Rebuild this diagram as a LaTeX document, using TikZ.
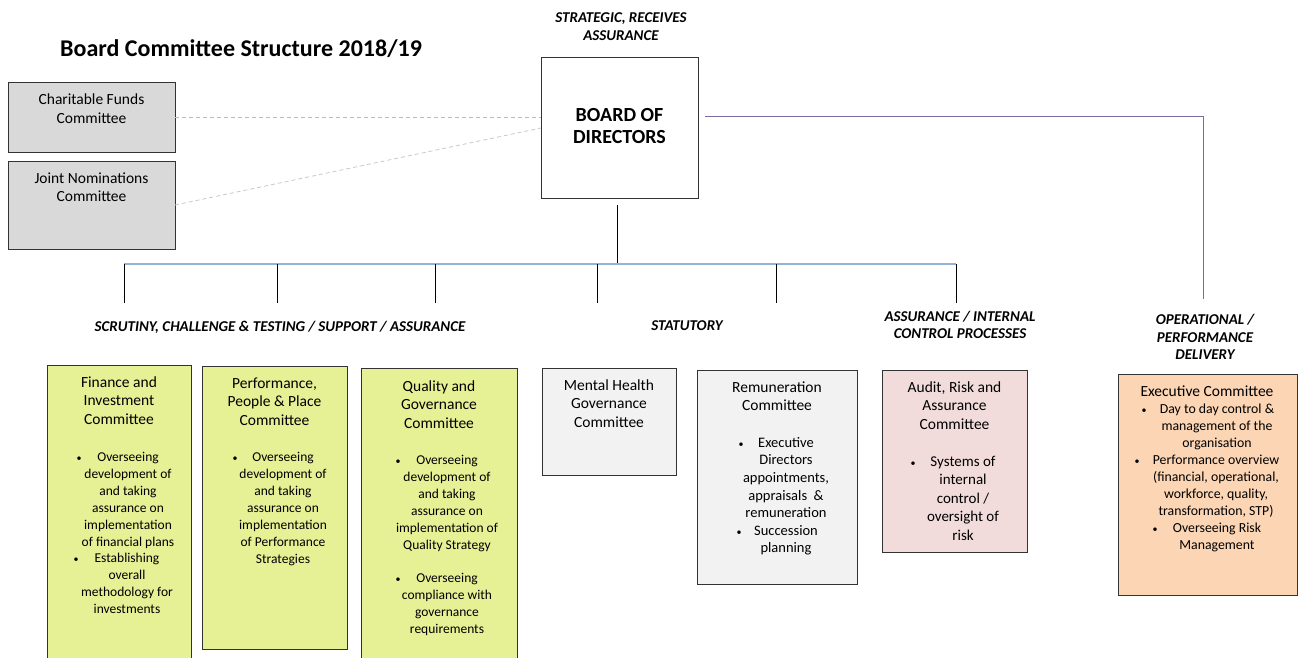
\documentclass[tikz,border=0pt]{standalone}
\usepackage{fontspec}
\setmainfont{Carlito}
\definecolor{yel}{HTML}{E6F095}
\definecolor{pnk}{HTML}{F2DCDB}
\definecolor{org}{HTML}{FCD5B4}
\definecolor{gry}{HTML}{D9D9D9}
\definecolor{lgry}{HTML}{F2F2F2}
\definecolor{barblue}{HTML}{95B3D7}
\definecolor{dashblue}{HTML}{9DC3E6}
\definecolor{dashgray}{HTML}{C8C8C8}
\definecolor{purp}{HTML}{7E6A9E}
\newcommand\ctext[2]{\parbox[t]{#1pt}{\centering #2}}
\tikzset{
  box/.style={draw=black!80, line width=0.9pt, anchor=north west, inner sep=0pt, outer sep=0pt},
  ttl/.style={anchor=base, inner sep=0pt, font=\fontsize{15.5}{18.5}\selectfont},
  txt/.style={anchor=base, inner sep=0pt, font=\fontsize{13.5}{17}\selectfont},
  lbl/.style={font=\bfseries\itshape\fontsize{15}{17.5}\selectfont, align=center, inner sep=0pt},
  drop/.style={draw=black, line width=0.8pt},
}
\newcommand\bul[6]{% name, bullet x, text x, baseline y, width, text
  \node[txt] (#1b) at (#2,#4) {\fontsize{10}{12}\selectfont\textbullet};
  \node[txt] (#1) at (#3,#4) {\ctext{#5}{#6}};}
\begin{document}
\begin{tikzpicture}[x=1pt,y=-1pt]
\useasboundingbox (0,0) rectangle (1298,658);

% title
\node[anchor=base west, inner sep=0pt, font=\bfseries\fontsize{24}{28}\selectfont] (title) at (60,57) {Board Committee Structure 2018/19};

% side committees
\node[box, fill=gry, minimum width=167pt, minimum height=70pt] (char) at (8,82) {};
\node[ttl, font=\fontsize{15.5}{18.5}\selectfont] (chart) at (91.5,105) {\ctext{160}{Charitable Funds\\Committee}};
\node[box, fill=gry, minimum width=167pt, minimum height=88pt] (joint) at (8,161) {};
\node[ttl, font=\fontsize{15.5}{18.5}\selectfont] (jointt) at (91.5,183) {\ctext{160}{Joint Nominations\\Committee}};

% board
\node[lbl, font=\bfseries\itshape\fontsize{15}{18}\selectfont] (strat) at (621,27) {STRATEGIC, RECEIVES\\ASSURANCE};
\node[box, fill=white, minimum width=157pt, minimum height=141pt] (board) at (541,57) {};
\node[inner sep=0pt, align=center, font=\bfseries\fontsize{20}{22}\selectfont] (boardt) at (619.5,126) {BOARD OF\\DIRECTORS};

% connectors to side committees
\coordinate (bw1) at (board.west |- 0,117);
\coordinate (bw2) at (board.west |- 0,128);
\draw[dashblue, line width=0.8pt, dash pattern=on 4pt off 3pt] (char.east |- bw1) -- (bw1);
\draw[dashgray, line width=0.8pt, dash pattern=on 4pt off 3pt] (joint.east |- 0,205) -- (bw2);

% purple line to executive
\coordinate (pstart) at (705,117);
\coordinate (pcorner) at (1203,117);
\coordinate (pend) at (1203,299);
\draw[purp, line width=1pt] (pstart) -- (pcorner) -- (pend);

% board stub and bar
\coordinate (stubtop) at (617,205);
\coordinate (stubbot) at (617,264);
\draw[drop] (stubtop) -- (stubbot);
\coordinate (barL) at (124,264);
\coordinate (barR) at (956,264);
\draw[barblue, line width=1.8pt] (barL) -- (barR);
\foreach \x/\n in {124/a,277/b,435/c,597/d,776/e,956/f}{
  \coordinate (top\n) at (\x,264);
  \coordinate (bot\n) at (\x,303);
  \draw[drop] (top\n) -- (bot\n);
}

% section labels
\node[lbl] (scrut) at (280,327) {SCRUTINY, CHALLENGE \& TESTING / SUPPORT / ASSURANCE};
\node[lbl] (statut) at (687,326) {STATUTORY};
\node[lbl] (assur) at (960,325) {ASSURANCE / INTERNAL\\CONTROL PROCESSES};
\node[lbl] (oper) at (1205,337) {OPERATIONAL /\\PERFORMANCE\\DELIVERY};

% Finance
\node[box, fill=yel, minimum width=144pt, minimum height=300pt] (fin) at (47,365) {};
\node[ttl] (fint) at (119,387) {\ctext{140}{Finance and\\Investment\\Committee}};
\bul{fin1}{79}{128}{461}{110}{Overseeing\\development of\\and taking\\assurance on\\implementation\\of financial plans}
\bul{fin2}{76}{127}{562}{110}{Establishing\\overall\\methodology for\\investments}

% Performance
\node[box, fill=yel, minimum width=145pt, minimum height=283pt] (perf) at (202,366) {};
\node[ttl] (perft) at (274.5,388) {\ctext{140}{Performance,\\People \& Place\\Committee}};
\bul{perf1}{235}{283}{461}{110}{Overseeing\\development of\\and taking\\assurance on\\implementation\\of Performance\\Strategies}

% Quality
\node[box, fill=yel, minimum width=156pt, minimum height=300pt] (qual) at (361,368) {};
\node[ttl] (qualt) at (439,391) {\ctext{150}{Quality and\\Governance\\Committee}};
\bul{qual1}{398}{447}{464}{120}{Overseeing\\development of\\and taking\\assurance on\\implementation of\\Quality Strategy}
\bul{qual2}{398}{447}{582}{120}{Overseeing\\compliance with\\governance\\requirements}

% Mental Health
\node[box, fill=lgry, minimum width=134pt, minimum height=107pt] (mh) at (542,368) {};
\node[ttl] (mht) at (609,390) {\ctext{130}{Mental Health\\Governance\\Committee}};

% Remuneration
\node[box, fill=lgry, minimum width=160pt, minimum height=214pt] (rem) at (697,370) {};
\node[ttl] (remt) at (777,392) {\ctext{150}{Remuneration\\Committee}};
\begin{scope}[txt/.append style={font=\fontsize{14.5}{17.7}\selectfont}]
\bul{rem1}{741}{786}{447}{110}{Executive\\Directors\\appointments,\\appraisals~~\&\\remuneration}
\bul{rem2}{739}{786}{535}{110}{Succession\\planning}
\end{scope}

% Audit
\node[box, fill=pnk, minimum width=145pt, minimum height=182pt] (aud) at (882,370) {};
\node[ttl] (audt) at (954.5,392) {\ctext{140}{Audit, Risk and\\Assurance\\Committee}};
\begin{scope}[txt/.append style={font=\fontsize{15}{18.5}\selectfont}]
\bul{aud1}{913}{963}{466}{110}{Systems of\\internal\\control /\\oversight of\\risk}
\end{scope}

% Executive
\node[box, fill=org, minimum width=179pt, minimum height=221pt] (exec) at (1118,374) {};
\node[ttl] (exect) at (1207,396) {\ctext{175}{Executive Committee}};
\begin{scope}[txt/.append style={font=\fontsize{13.8}{17}\selectfont}]
\bul{ex1}{1144}{1217}{413}{150}{Day to day control \&\\management of the\\organisation}
\bul{ex2}{1137}{1216}{464}{150}{Performance overview\\(financial, operational,\\workforce, quality,\\transformation, STP)}
\bul{ex3}{1155}{1217}{532}{150}{Overseeing Risk\\Management}
\end{scope}
\end{tikzpicture}
\end{document}
